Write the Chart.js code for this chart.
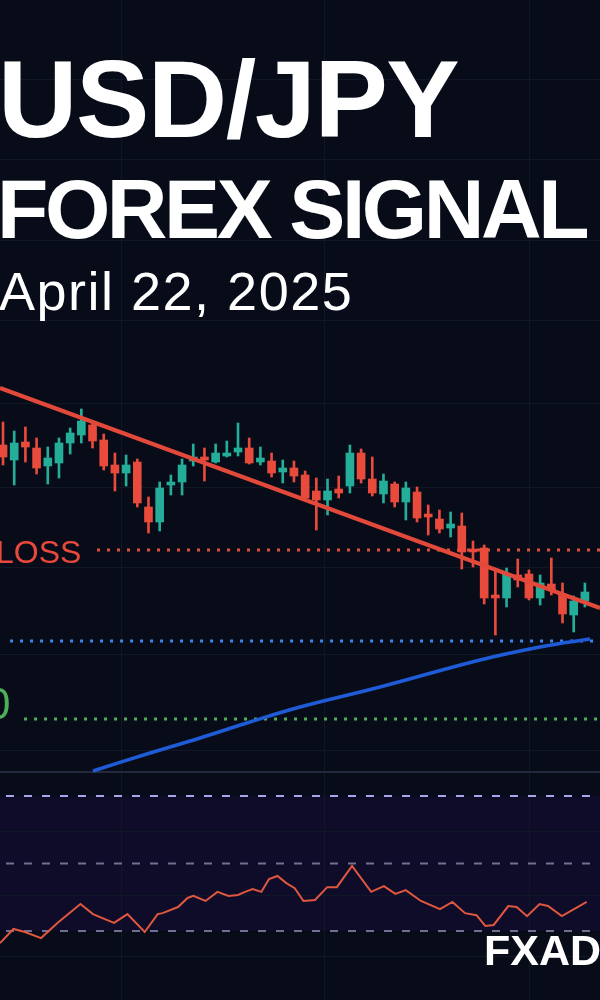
<!DOCTYPE html>
<html>
<head>
<meta charset="utf-8">
<script src="https://cdn.jsdelivr.net/npm/chart.js@4.4.1/dist/chart.umd.min.js"></script>
<style>
  html, body { margin: 0; padding: 0; background: #070c18; }
  #wrap { position: relative; width: 600px; height: 1000px; overflow: hidden; }
  #chart { position: absolute; left: 0; top: 0; }
  .txt { position: absolute; white-space: nowrap; line-height: 1; font-family: "Liberation Sans", Arial, sans-serif; }
  #pair { left: -2px; top: 44px; font-size: 110px; font-weight: bold; color: #fff; letter-spacing: -1.5px; }
  #signal { left: -3px; top: 167px; font-size: 84px; font-weight: bold; color: #fff; letter-spacing: -3.4px; }
  #date { left: -1px; top: 264px; font-size: 54px; color: #fff; letter-spacing: 1.5px; }
  #loss { left: -4px; top: 536px; font-size: 32px; color: #e8493c; }
  #tp { left: -14px; top: 682px; font-size: 44px; color: #4cb05a; }
  #brand { left: 484px; top: 929px; font-size: 43px; font-weight: bold; color: #fff; }
</style>
</head>
<body>
<div id="wrap">
  <canvas id="chart" width="600" height="1000"></canvas>
  <div class="txt" id="pair">USD/JPY</div>
  <div class="txt" id="signal">FOREX SIGNAL</div>
  <div class="txt" id="date">April 22, 2025</div>
  <div class="txt" id="loss">LOSS</div>
  <div class="txt" id="tp">0</div>
  <div class="txt" id="brand">FXAD</div>
</div>
<script>
// candles (one per bar, index = position in the arrays)
const opens  = [151.10,150.80,151.16,151.04,150.68,150.74,151.14,151.30,151.50,151.20,
                150.70,150.54,150.76,149.86,149.56,150.30,150.36,150.78,150.86,150.76,
                150.88,150.96,151.04,150.76,150.78,150.56,150.64,150.50,150.18,150.00,
                150.22,150.28,150.94,150.42,150.12,150.32,149.96,150.16,149.72,149.62,
                149.44,149.48,149.02,149.04,148.08,148.04,148.50,148.52,148.04,148.32,
                148.10,147.70,147.98];
const closes = [150.86,151.14,151.06,150.64,150.84,151.14,151.34,151.58,151.18,150.68,
                150.54,150.70,149.94,149.56,150.24,150.36,150.70,150.86,150.80,150.94,
                150.94,151.04,150.74,150.84,150.54,150.64,150.48,150.04,150.00,150.18,
                150.14,150.94,150.42,150.14,150.38,149.96,150.24,149.64,149.66,149.42,
                149.52,148.96,148.96,148.04,148.04,148.52,148.40,148.04,148.34,148.20,
                147.72,147.98,148.16];
const highs  = [151.56,151.38,151.46,151.24,151.06,151.24,151.44,151.82,151.54,151.32,
                150.94,150.90,150.82,150.06,150.36,150.50,150.82,151.12,151.04,151.12,
                151.18,151.54,151.24,151.06,150.94,150.80,150.78,150.58,150.44,150.42,
                150.48,151.10,151.02,150.86,150.52,150.36,150.36,150.26,149.90,149.80,
                149.76,149.74,149.18,149.10,148.60,148.64,148.82,148.60,148.50,148.84,
                148.34,148.08,148.34];
const lows   = [150.70,150.30,150.76,150.52,150.32,150.44,150.92,151.14,151.04,150.60,
                150.18,150.28,149.86,149.34,149.38,150.10,150.10,150.68,150.38,150.74,
                150.86,150.88,150.72,150.70,150.46,150.34,150.36,150.00,149.40,149.70,
                150.04,150.14,150.34,150.08,149.94,149.86,149.60,149.56,149.30,149.34,
                149.26,148.62,148.66,147.92,147.30,147.86,148.26,148.00,147.90,148.10,
                147.54,147.36,147.86];

// descending trendline (bar index, price)
const trendX = [-0.27, 53.35];
const trendY = [152.24, 147.84];

// long moving average
const maX = [8.04, 13.14, 17.61, 22.07, 26.54, 33.69, 42.63, 47.99, 52.46];
const maY = [144.58, 144.94, 145.24, 145.56, 145.86, 146.26, 146.80, 147.06, 147.22];

// signal levels
const stopLevel = 149.00,  stopFrom = 8.4;
const entryLevel = 147.18, entryFrom = 0.63;
const targetLevel = 145.62, targetFrom = 1.88;

// RSI pane
const rsiX = [-0.27,0.93,1.96,3.40,4.86,6.92,8.04,9.92,11.12,12.66,13.82,14.26,15.64,16.49,17.01,
              18.10,19.16,20.15,21.00,21.63,22.31,23.09,23.77,24.53,25.32,26.07,26.85,27.88,28.97,
              29.83,31.19,32.90,34.04,35.06,35.99,37.35,39.05,40.16,41.29,42.31,43.10,43.85,45.15,
              45.90,46.83,47.95,48.70,49.94,51.03,52.16];
const rsiY = [26.4,30.6,29.7,27.9,32.4,38.0,35.0,32.4,35.0,29.7,35.0,35.3,37.1,39.8,40.4,
              38.9,41.6,40.4,40.7,41.6,42.4,41.6,45.4,46.3,44.2,42.7,38.9,39.2,43.0,
              43.0,49.3,41.6,43.3,41.0,42.1,38.9,36.5,38.6,35.3,34.7,31.5,31.8,37.4,
              37.1,34.4,38.0,37.4,34.4,36.5,38.6];
const rsiLevels = [70, 50, 30];

// axis ranges and grid
const X_MIN = -0.27, X_MAX = 53.35;
const PRICE_MIN = 140, PRICE_MAX = 160;
const RSI_MIN = 9.56, RSI_MAX = 305.85;
const xGrid = [10.63, 28.77, 47.09];
const priceGrid = [158.4, 156.8, 155.2, 153.6, 151.94, 150.26, 148.66, 146.92, 145.0, 144.56, 143.36, 142.08, 140.86];
const paneSplit = 144.56;

const RED = '#e84a3c', GREEN = '#24ad98';
const idx = opens.map((_, i) => i);
const colors = idx.map(i => closes[i] >= opens[i] ? GREEN : RED);

const hline = (level, from, color, axis) => ({
  type: 'line', yAxisID: axis || 'y',
  data: [{ x: from, y: level }, { x: X_MAX, y: level }],
  borderColor: color, borderWidth: 3, borderDash: [3, 7], borderCapStyle: 'butt',
  pointRadius: 0, order: 5
});

const rsiDash = (level, color) => ({
  type: 'line', yAxisID: 'yr',
  data: [{ x: X_MIN, y: level }, { x: X_MAX, y: level }],
  borderColor: color, borderWidth: 2, borderDash: [8, 10], borderDashOffset: -6,
  pointRadius: 0, order: 6
});

const rsiBand = {
  id: 'rsiBand',
  beforeDraw(chart) {
    const { ctx, chartArea, scales } = chart;
    const top = scales.yr.getPixelForValue(rsiLevels[0]);
    const bot = scales.yr.getPixelForValue(rsiLevels[2]);
    ctx.save();
    ctx.fillStyle = '#0e0c29';
    ctx.fillRect(chartArea.left, top, chartArea.width, bot - top);
    ctx.restore();
  }
};

new Chart(document.getElementById('chart'), {
  type: 'bar',
  data: {
    datasets: [
      {
        type: 'line', data: trendX.map((x, i) => ({ x, y: trendY[i] })),
        borderColor: '#e2493b', borderWidth: 4, pointRadius: 0, order: 0
      },
      {
        type: 'line', data: maX.map((x, i) => ({ x, y: maY[i] })),
        borderColor: '#1f5bd6', borderWidth: 3.5, pointRadius: 0, tension: 0.4, order: 1
      },
      {
        type: 'line', yAxisID: 'yr', data: rsiX.map((x, i) => ({ x, y: rsiY[i] })),
        borderColor: '#e0573f', borderWidth: 2, pointRadius: 0, tension: 0, order: 1
      },
      {
        type: 'bar', data: idx.map(i => ({ x: i, y: [Math.min(opens[i], closes[i]), Math.max(opens[i], closes[i])] })),
        backgroundColor: colors, barThickness: 8, minBarLength: 3, grouped: false, order: 2
      },
      {
        type: 'bar', data: idx.map(i => ({ x: i, y: [lows[i], highs[i]] })),
        backgroundColor: colors, barThickness: 2, grouped: false, order: 3
      },
      hline(stopLevel, stopFrom, '#df4f3f'),
      hline(entryLevel, entryFrom, '#3d86ea'),
      hline(targetLevel, targetFrom, '#4fae5c'),
      rsiDash(rsiLevels[0], '#a8a5e6'),
      rsiDash(rsiLevels[1], '#6f6e93'),
      rsiDash(rsiLevels[2], '#6f6e93')
    ]
  },
  options: {
    responsive: false,
    animation: false,
    layout: { padding: 0 },
    plugins: { legend: { display: false }, tooltip: { enabled: false } },
    scales: {
      x: {
        type: 'linear', min: X_MIN, max: X_MAX, offset: false,
        ticks: { display: false }, border: { display: false },
        grid: { color: '#101827', drawTicks: false, offset: false },
        afterBuildTicks: s => { s.ticks = xGrid.map(v => ({ value: v })); },
        afterFit: s => { s.height = 0; }
      },
      y: {
        min: PRICE_MIN, max: PRICE_MAX,
        ticks: { display: false }, border: { display: false },
        grid: {
          drawTicks: false,
          color: c => c.tick && c.tick.value === paneSplit ? '#232a3b' : '#101827',
          lineWidth: c => c.tick && c.tick.value === paneSplit ? 2 : 1
        },
        afterBuildTicks: s => { s.ticks = priceGrid.map(v => ({ value: v })); },
        afterFit: s => { s.width = 0; }
      },
      yr: { min: RSI_MIN, max: RSI_MAX, display: false }
    }
  },
  plugins: [rsiBand]
});
</script>
</body>
</html>
